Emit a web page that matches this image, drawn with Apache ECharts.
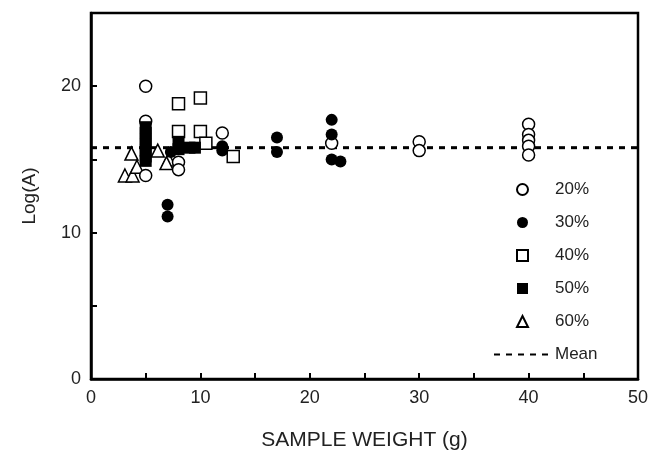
<!DOCTYPE html>
<html><head><meta charset="utf-8">
<script src="https://cdn.jsdelivr.net/npm/echarts@6/dist/echarts.min.js"></script>
<style>html,body{margin:0;padding:0;background:#fff}#c{width:650px;height:450px}</style>
</head><body><div id="c"></div>
<script>
var xTicks = [0, 10, 20, 30, 40, 50];
var yTicks = [0, 10, 20];
var s20 = [[5,20.0],[5,17.6],[5,13.9],[8,14.8],[8,14.3],[12,16.8],[22,16.1],[30,16.2],[30,15.6],[40,17.4],[40,16.7],[40,16.3],[40,15.9],[40,15.3]];
var s30 = [[7,11.9],[7,11.1],[7.3,15.5],[12,15.9],[12,15.6],[17,16.5],[17,15.5],[22,17.7],[22,16.7],[22,15.0],[22.8,14.85]];
var s40 = [[8,18.8],[10,19.2],[8,16.9],[10,16.9],[10.5,16.1],[13,15.2]];
var s50 = [[5,17.2],[5,16.8],[5,16.4],[5,16.0],[5,15.6],[5,15.2],[5,14.9],[8,16.2],[8,15.7],[9,15.8],[9.5,15.8]];
var s60 = [[3.1,13.9],[3.8,13.9],[3.7,15.4],[4.2,14.5],[6.1,15.6],[7.1,15.0],[6.9,14.75]];
var meanValue = 15.8;
var meanX = [0, 50];
var names = ['20%','30%','40%','50%','60%','Mean'];

var chart = echarts.init(document.getElementById('c'), null, {renderer:'canvas'});
var font = 'Liberation Sans, Arial, sans-serif';
function open(sym, size, data, name){
  return {name:name, type:'scatter', symbol:sym, symbolSize:size, data:data,
    itemStyle:{color:'#fff', borderColor:'#000', borderWidth:1.5, opacity:1}};
}
function filled(sym, size, data, name){
  return {name:name, type:'scatter', symbol:sym, symbolSize:size, data:data,
    itemStyle:{color:'#000', opacity:1}};
}
chart.setOption({
  animation:false,
  grid:{left:91, right:12, top:13, bottom:71, show:true, borderColor:'#000', borderWidth:2.5,
    outerBoundsMode:'none', containLabel:false},
  legend:[{
    data:names.slice(0,5), orient:'vertical', left:511, top:176, itemWidth:11, itemHeight:11, itemGap:16,
    textStyle:{fontFamily:font, fontSize:17, color:'#222', padding:[0,0,0,22]}
  },{
    data:[{name:'Mean', itemStyle:{opacity:0}}], left:488, top:341, itemWidth:56, itemHeight:10,
    textStyle:{fontFamily:font, fontSize:17, color:'#222', padding:[0,0,0,0]}
  }],
  xAxis:{type:'value', min:0, max:50, interval:5,
    name:'SAMPLE WEIGHT (g)', nameLocation:'middle', nameGap:51,
    nameTextStyle:{fontFamily:font, fontSize:21, color:'#222'},
    axisLine:{show:true, lineStyle:{color:'#000', width:2.5}},
    axisTick:{show:true, inside:true, length:6, lineStyle:{color:'#000', width:2}},
    axisLabel:{fontFamily:font, fontSize:18, color:'#222', margin:10,
      formatter:function(v){return xTicks.indexOf(v)>=0 ? String(v) : '';}},
    splitLine:{show:false}},
  yAxis:{type:'value', min:0, max:25, interval:5,
    name:'Log(A)', nameLocation:'middle', nameGap:52,
    nameTextStyle:{fontFamily:font, fontSize:19, color:'#222'},
    axisLine:{show:true, lineStyle:{color:'#000', width:2.5}},
    axisTick:{show:true, inside:true, length:6, lineStyle:{color:'#000', width:2}},
    axisLabel:{fontFamily:font, fontSize:18, color:'#222', margin:10,
      formatter:function(v){return yTicks.indexOf(v)>=0 ? String(v) : '';}},
    splitLine:{show:false}},
  series:[
    {name:'Mean', type:'line', symbol:'none', data:meanX.map(function(x){return [x, meanValue];}),
      lineStyle:{color:'#000', width:3, type:[6,6]}, itemStyle:{color:'#000'}, z:1},
    open('triangle', 13, s60, '60%'),
    open('circle', 12, s20, '20%'),
    open('rect', 12, s40, '40%'),
    filled('circle', 12, s30, '30%'),
    filled('rect', 12, s50, '50%')
  ]
});
</script></body></html>
